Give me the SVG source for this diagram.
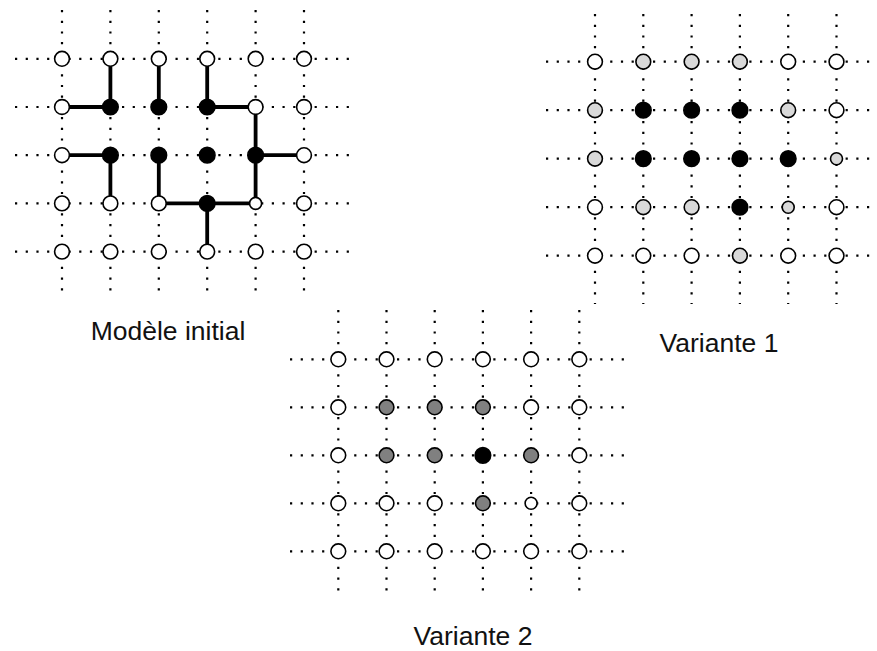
<svg xmlns="http://www.w3.org/2000/svg" width="877" height="651" viewBox="0 0 877 651">
<style>
.dot{fill:none;stroke:#000;stroke-width:2.2;stroke-dasharray:2.2 8.5}
.edge{fill:none;stroke:#000;stroke-width:3.8}
circle{stroke:#000;stroke-width:1.6}
.w{fill:#fff}
.b{fill:#000}
.lg{fill:#d9d9d9}
.g{fill:#808080}
text{font-family:"Liberation Sans",Arial,sans-serif;font-size:26.5px;fill:#111;text-anchor:middle}
</style>
<rect width="877" height="651" fill="#fff"/>
<g id="grid-lines">
<path class="dot" d="M15 58.8H352M15 107H352M15 155.2H352M15 203.4H352M15 251.6H352M62 10V298M110.4 10V298M158.8 10V298M207.2 10V298M255.6 10V298M304 10V298"/>
<path class="dot" d="M546 61.7H877M546 110.2H877M546 158.7H877M546 207.2H877M546 255.7H877M595 14V304M643.3 14V304M691.6 14V304M739.9 14V304M788.2 14V304M836.5 14V304"/>
<path class="dot" d="M290 359.3H627M290 407.3H627M290 455.3H627M290 503.3H627M290 551.3H627M338.3 310V597M386.5 310V597M434.7 310V597M482.9 310V597M531.1 310V597M579.3 310V597"/>
</g>
<g id="connectors">
<path class="edge" d="M110.4 58.8V107M62 107H110.4M158.8 58.8V107M207.2 58.8V107M207.2 107H255.6M255.6 107V155.2M255.6 155.2H304M255.6 155.2V203.4M62 155.2H110.4M110.4 155.2V203.4M158.8 155.2V203.4M158.8 203.4H255.6M207.2 203.4V251.6"/>
</g>
<!-- Grid 1 -->
<g id="g1-r0c0"><circle class="w" cx="62" cy="58.8" r="7.4"/></g>
<g id="g1-r0c1"><circle class="w" cx="110.4" cy="58.8" r="7.4"/></g>
<g id="g1-r0c2"><circle class="w" cx="158.8" cy="58.8" r="7.4"/></g>
<g id="g1-r0c3"><circle class="w" cx="207.2" cy="58.8" r="7.4"/></g>
<g id="g1-r0c4"><circle class="w" cx="255.6" cy="58.8" r="7.4"/></g>
<g id="g1-r0c5"><circle class="w" cx="304" cy="58.8" r="7.4"/></g>
<g id="g1-r1c0"><circle class="w" cx="62" cy="107" r="7.4"/></g>
<g id="g1-r1c1"><circle class="b" cx="110.4" cy="107" r="7.8"/></g>
<g id="g1-r1c2"><circle class="b" cx="158.8" cy="107" r="7.8"/></g>
<g id="g1-r1c3"><circle class="b" cx="207.2" cy="107" r="7.8"/></g>
<g id="g1-r1c4"><circle class="w" cx="255.6" cy="107" r="7.4"/></g>
<g id="g1-r1c5"><circle class="w" cx="304" cy="107" r="7.4"/></g>
<g id="g1-r2c0"><circle class="w" cx="62" cy="155.2" r="7.4"/></g>
<g id="g1-r2c1"><circle class="b" cx="110.4" cy="155.2" r="7.8"/></g>
<g id="g1-r2c2"><circle class="b" cx="158.8" cy="155.2" r="7.8"/></g>
<g id="g1-r2c3"><circle class="b" cx="207.2" cy="155.2" r="7.8"/></g>
<g id="g1-r2c4"><circle class="b" cx="255.6" cy="155.2" r="7.8"/></g>
<g id="g1-r2c5"><circle class="w" cx="304" cy="155.2" r="7.4"/></g>
<g id="g1-r3c0"><circle class="w" cx="62" cy="203.4" r="7.4"/></g>
<g id="g1-r3c1"><circle class="w" cx="110.4" cy="203.4" r="7.4"/></g>
<g id="g1-r3c2"><circle class="w" cx="158.8" cy="203.4" r="7.4"/></g>
<g id="g1-r3c3"><circle class="b" cx="207.2" cy="203.4" r="7.8"/></g>
<g id="g1-r3c4"><circle class="w" cx="255.6" cy="203.4" r="6"/></g>
<g id="g1-r3c5"><circle class="w" cx="304" cy="203.4" r="7.4"/></g>
<g id="g1-r4c0"><circle class="w" cx="62" cy="251.6" r="7.4"/></g>
<g id="g1-r4c1"><circle class="w" cx="110.4" cy="251.6" r="7.4"/></g>
<g id="g1-r4c2"><circle class="w" cx="158.8" cy="251.6" r="7.4"/></g>
<g id="g1-r4c3"><circle class="w" cx="207.2" cy="251.6" r="7.4"/></g>
<g id="g1-r4c4"><circle class="w" cx="255.6" cy="251.6" r="7.4"/></g>
<g id="g1-r4c5"><circle class="w" cx="304" cy="251.6" r="7.4"/></g>
<!-- Grid 2 -->
<g id="g2-r0c0"><circle class="w" cx="595" cy="61.7" r="7.4"/></g>
<g id="g2-r0c1"><circle class="lg" cx="643.3" cy="61.7" r="7.4"/></g>
<g id="g2-r0c2"><circle class="lg" cx="691.6" cy="61.7" r="7.4"/></g>
<g id="g2-r0c3"><circle class="lg" cx="739.9" cy="61.7" r="7.4"/></g>
<g id="g2-r0c4"><circle class="w" cx="788.2" cy="61.7" r="7.4"/></g>
<g id="g2-r0c5"><circle class="w" cx="836.5" cy="61.7" r="7.4"/></g>
<g id="g2-r1c0"><circle class="lg" cx="595" cy="110.2" r="7.4"/></g>
<g id="g2-r1c1"><circle class="b" cx="643.3" cy="110.2" r="7.8"/></g>
<g id="g2-r1c2"><circle class="b" cx="691.6" cy="110.2" r="7.8"/></g>
<g id="g2-r1c3"><circle class="b" cx="739.9" cy="110.2" r="7.8"/></g>
<g id="g2-r1c4"><circle class="lg" cx="788.2" cy="110.2" r="7.4"/></g>
<g id="g2-r1c5"><circle class="w" cx="836.5" cy="110.2" r="7.4"/></g>
<g id="g2-r2c0"><circle class="lg" cx="595" cy="158.7" r="7.4"/></g>
<g id="g2-r2c1"><circle class="b" cx="643.3" cy="158.7" r="7.8"/></g>
<g id="g2-r2c2"><circle class="b" cx="691.6" cy="158.7" r="7.8"/></g>
<g id="g2-r2c3"><circle class="b" cx="739.9" cy="158.7" r="7.8"/></g>
<g id="g2-r2c4"><circle class="b" cx="788.2" cy="158.7" r="7.8"/></g>
<g id="g2-r2c5"><circle class="lg" cx="836.5" cy="158.7" r="6"/></g>
<g id="g2-r3c0"><circle class="w" cx="595" cy="207.2" r="7.4"/></g>
<g id="g2-r3c1"><circle class="lg" cx="643.3" cy="207.2" r="7.4"/></g>
<g id="g2-r3c2"><circle class="lg" cx="691.6" cy="207.2" r="7.4"/></g>
<g id="g2-r3c3"><circle class="b" cx="739.9" cy="207.2" r="7.8"/></g>
<g id="g2-r3c4"><circle class="lg" cx="788.2" cy="207.2" r="6"/></g>
<g id="g2-r3c5"><circle class="w" cx="836.5" cy="207.2" r="7.4"/></g>
<g id="g2-r4c0"><circle class="w" cx="595" cy="255.7" r="7.4"/></g>
<g id="g2-r4c1"><circle class="w" cx="643.3" cy="255.7" r="7.4"/></g>
<g id="g2-r4c2"><circle class="w" cx="691.6" cy="255.7" r="7.4"/></g>
<g id="g2-r4c3"><circle class="lg" cx="739.9" cy="255.7" r="7.4"/></g>
<g id="g2-r4c4"><circle class="w" cx="788.2" cy="255.7" r="7.4"/></g>
<g id="g2-r4c5"><circle class="w" cx="836.5" cy="255.7" r="7.4"/></g>
<!-- Grid 3 -->
<g id="g3-r0c0"><circle class="w" cx="338.3" cy="359.3" r="7.4"/></g>
<g id="g3-r0c1"><circle class="w" cx="386.5" cy="359.3" r="7.4"/></g>
<g id="g3-r0c2"><circle class="w" cx="434.7" cy="359.3" r="7.4"/></g>
<g id="g3-r0c3"><circle class="w" cx="482.9" cy="359.3" r="7.4"/></g>
<g id="g3-r0c4"><circle class="w" cx="531.1" cy="359.3" r="7.4"/></g>
<g id="g3-r0c5"><circle class="w" cx="579.3" cy="359.3" r="7.4"/></g>
<g id="g3-r1c0"><circle class="w" cx="338.3" cy="407.3" r="7.4"/></g>
<g id="g3-r1c1"><circle class="g" cx="386.5" cy="407.3" r="7.4"/></g>
<g id="g3-r1c2"><circle class="g" cx="434.7" cy="407.3" r="7.4"/></g>
<g id="g3-r1c3"><circle class="g" cx="482.9" cy="407.3" r="7.4"/></g>
<g id="g3-r1c4"><circle class="w" cx="531.1" cy="407.3" r="7.4"/></g>
<g id="g3-r1c5"><circle class="w" cx="579.3" cy="407.3" r="7.4"/></g>
<g id="g3-r2c0"><circle class="w" cx="338.3" cy="455.3" r="7.4"/></g>
<g id="g3-r2c1"><circle class="g" cx="386.5" cy="455.3" r="7.4"/></g>
<g id="g3-r2c2"><circle class="g" cx="434.7" cy="455.3" r="7.4"/></g>
<g id="g3-r2c3"><circle class="b" cx="482.9" cy="455.3" r="7.8"/></g>
<g id="g3-r2c4"><circle class="g" cx="531.1" cy="455.3" r="7.4"/></g>
<g id="g3-r2c5"><circle class="w" cx="579.3" cy="455.3" r="7.4"/></g>
<g id="g3-r3c0"><circle class="w" cx="338.3" cy="503.3" r="7.4"/></g>
<g id="g3-r3c1"><circle class="w" cx="386.5" cy="503.3" r="7.4"/></g>
<g id="g3-r3c2"><circle class="w" cx="434.7" cy="503.3" r="7.4"/></g>
<g id="g3-r3c3"><circle class="g" cx="482.9" cy="503.3" r="7.4"/></g>
<g id="g3-r3c4"><circle class="w" cx="531.1" cy="503.3" r="6"/></g>
<g id="g3-r3c5"><circle class="w" cx="579.3" cy="503.3" r="7.4"/></g>
<g id="g3-r4c0"><circle class="w" cx="338.3" cy="551.3" r="7.4"/></g>
<g id="g3-r4c1"><circle class="w" cx="386.5" cy="551.3" r="7.4"/></g>
<g id="g3-r4c2"><circle class="w" cx="434.7" cy="551.3" r="7.4"/></g>
<g id="g3-r4c3"><circle class="w" cx="482.9" cy="551.3" r="7.4"/></g>
<g id="g3-r4c4"><circle class="w" cx="531.1" cy="551.3" r="7.4"/></g>
<g id="g3-r4c5"><circle class="w" cx="579.3" cy="551.3" r="7.4"/></g>
<g id="labels">
<text x="168" y="340">Modèle initial</text>
<text x="719" y="351.5">Variante 1</text>
<text x="473" y="645">Variante 2</text>
</g>
</svg>
